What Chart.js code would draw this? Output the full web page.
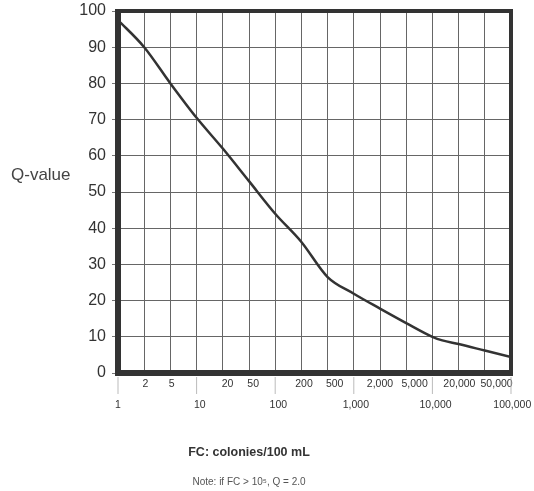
<!DOCTYPE html>
<html>
<head>
<meta charset="utf-8">
<script src="https://cdn.jsdelivr.net/npm/chart.js@4"></script>
<style>
  html, body { margin: 0; padding: 0; background: #fff; }
  #wrap { width: 534px; height: 491px; }
</style>
</head>
<body>
<div id="wrap"><canvas id="qchart" width="534" height="491"></canvas></div>
<script>
// Grid values along the x axis (1-2-5 steps, evenly spaced on the chart)
const gridValues = [1, 2, 5, 10, 20, 50, 100, 200, 500, 1000, 2000, 5000, 10000, 20000, 50000, 100000];
const tickLabels = ['1', '2', '5', '10', '20', '50', '100', '200', '500', '1,000', '2,000', '5,000', '10,000', '20,000', '50,000', '100,000'];
const decadeIdx = [0, 3, 6, 9, 12, 15];
// labels in the print sit a bit right of their grid line (in grid units)
const labelShift = [0, 0.05, 0.05, 0.12, 0.18, 0.16, 0.12, 0.1, 0.27, 0.08, 0, 0.32, 0.12, 0.03, 0.45, 0.05];

// Curve: fecal coliform vs Q-value
const fcValues = [1, 2, 5, 10, 20, 50, 100, 200, 500, 1000, 2000, 5000, 10000, 13000, 20000, 50000, 100000];
const qValues  = [97.5, 90, 80, 70.5, 62, 53, 44, 36.2, 26.5, 21.9, 17.8, 13.8, 10, 9, 8, 6.2, 4.4];

const yTicks = [0, 10, 20, 30, 40, 50, 60, 70, 80, 90, 100];

// map an FC value to its position on the evenly spaced grid
function fcToPos(fc) {
    for (let i = 0; i < gridValues.length - 1; i++) {
        if (fc <= gridValues[i + 1]) {
            return i + Math.log(fc / gridValues[i]) / Math.log(gridValues[i + 1] / gridValues[i]);
        }
    }
    return gridValues.length - 1;
}

const points = fcValues.map((fc, i) => ({ x: fcToPos(fc), y: qValues[i] }));

const extras = {
    id: 'extras',
    afterDraw(chart) {
        const ctx = chart.ctx;
        const a = chart.chartArea;
        ctx.save();
        // longer marks under the decade labels
        ctx.strokeStyle = '#bbb';
        ctx.lineWidth = 1;
        decadeIdx.forEach(i => {
            const x = chart.scales.x.getPixelForValue(i);
            ctx.beginPath();
            ctx.moveTo(x, a.bottom + 4);
            ctx.lineTo(x, a.bottom + 21);
            ctx.stroke();
        });
        // heavy frame
        ctx.strokeStyle = '#333';
        ctx.lineWidth = 4;
        ctx.strokeRect(a.left, a.top, a.right - a.left, a.bottom - a.top);
        ctx.lineWidth = 6;
        ctx.beginPath();
        ctx.moveTo(a.left, a.top - 2);
        ctx.lineTo(a.left, a.bottom);
        ctx.lineTo(a.right + 2, a.bottom);
        ctx.stroke();
        // texts
        ctx.fillStyle = '#444';
        ctx.font = '17px "Liberation Sans", Arial, sans-serif';
        ctx.textAlign = 'left';
        ctx.textBaseline = 'middle';
        ctx.fillText('Q-value', 11, 175);
        ctx.textAlign = 'center';
        ctx.fillStyle = '#333';
        ctx.font = 'bold 12.5px "Liberation Sans", Arial, sans-serif';
        ctx.fillText('FC: colonies/100 mL', 249, 453);
        ctx.fillStyle = '#555';
        ctx.font = '10px "Liberation Sans", Arial, sans-serif';
        ctx.fillText('Note: if FC > 10\u2075, Q = 2.0', 249, 482);
        ctx.restore();
    }
};

new Chart(document.getElementById('qchart'), {
    type: 'line',
    data: {
        datasets: [{
            data: points,
            borderColor: '#333',
            borderWidth: 2.5,
            pointRadius: 0,
            fill: false,
            cubicInterpolationMode: 'monotone'
        }]
    },
    options: {
        responsive: false,
        animation: false,
        layout: { padding: { top: 11, right: 23, left: 0, bottom: 0 } },
        plugins: { legend: { display: false }, tooltip: { enabled: false } },
        scales: {
            x: {
                type: 'linear',
                min: 0,
                max: gridValues.length - 1,
                weight: 0,
                afterFit(scale) { scale.height = 0; },
                afterBuildTicks(scale) {
                    scale.ticks = gridValues.map((g, i) => ({ value: i }));
                },
                grid: { color: '#666', lineWidth: 1, drawTicks: false },
                border: { display: false },
                ticks: { display: false }
            },
            x2: {
                type: 'linear',
                position: 'bottom',
                min: 0,
                max: gridValues.length - 1,
                weight: 1,
                afterFit(scale) { scale.height = 118; },
                afterBuildTicks(scale) {
                    scale.ticks = tickLabels.map((t, i) => ({ value: i + labelShift[i] }));
                },
                grid: { display: false },
                border: { display: false },
                ticks: {
                    autoSkip: false,
                    maxRotation: 0,
                    padding: -7,
                    color: '#333',
                    font: { family: '"Liberation Sans", Arial, sans-serif', size: 10.5, lineHeight: 2 },
                    callback: (v, i) => decadeIdx.includes(i) ? ['', tickLabels[i]] : [tickLabels[i], '']
                }
            },
            y: {
                min: 0,
                max: 100,
                afterFit(scale) {
                    scale.width = 118;
                    scale.paddingTop = 0;
                    scale.paddingBottom = 0;
                },
                afterBuildTicks(scale) {
                    scale.ticks = yTicks.map(v => ({ value: v }));
                },
                grid: { color: '#666', lineWidth: 1, tickLength: 6, tickColor: '#777' },
                border: { display: false },
                ticks: {
                    padding: 6,
                    color: '#333',
                    font: { family: '"Liberation Sans", Arial, sans-serif', size: 16 }
                }
            }
        }
    },
    plugins: [extras]
});
</script>
</body>
</html>
